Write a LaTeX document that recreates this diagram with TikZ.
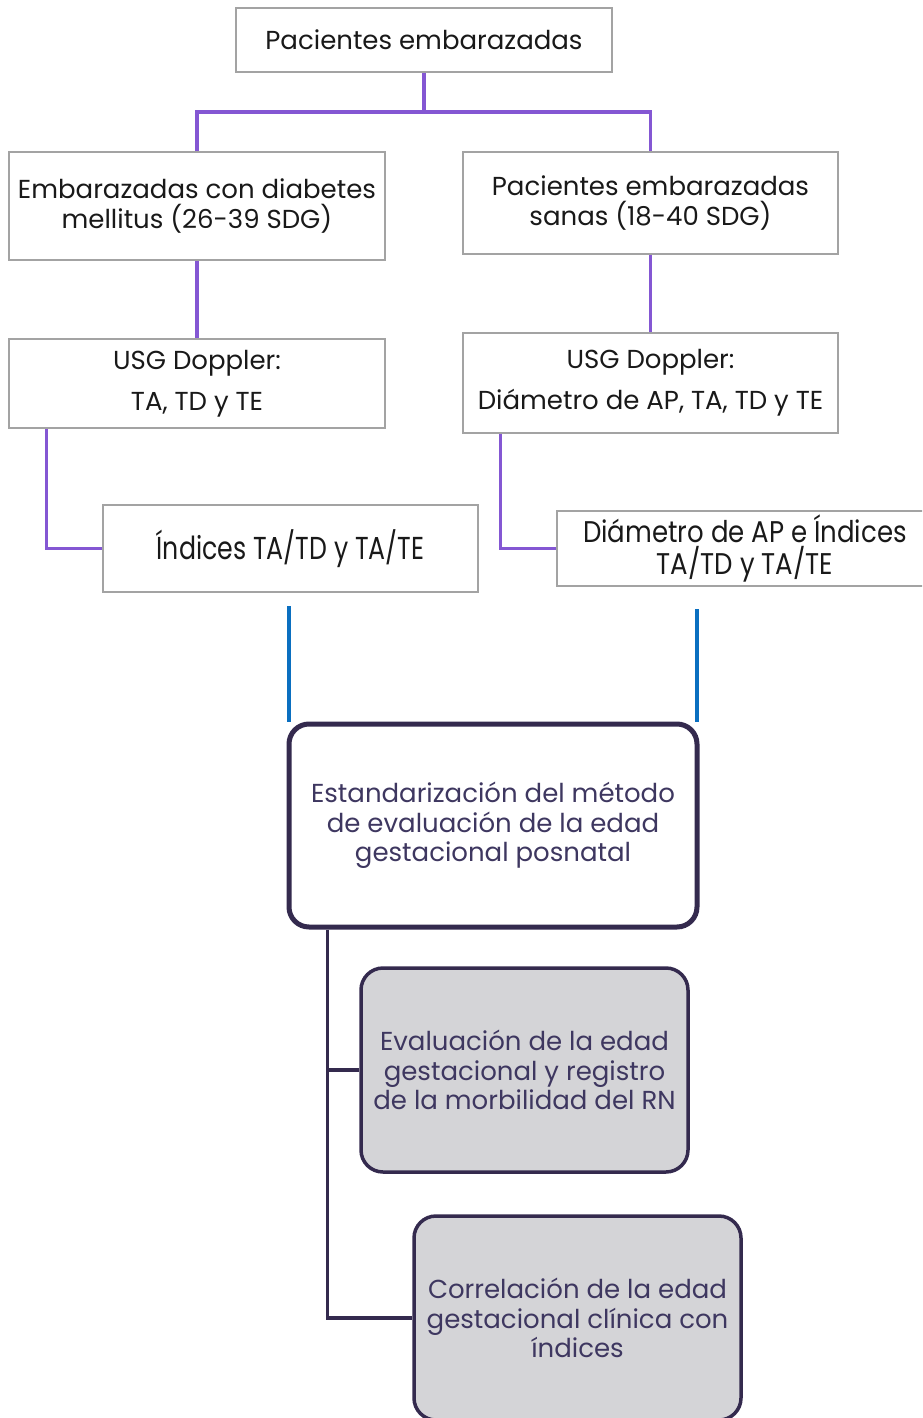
\documentclass[tikz,border=0pt]{standalone}
\usepackage{fontspec}
\setmainfont{Poppins}
\usetikzlibrary{positioning,calc}
\definecolor{lnpurple}{HTML}{8457D3}
\definecolor{boxgray}{HTML}{A3A3A3}
\definecolor{lnblue}{HTML}{0A6FC0}
\definecolor{darkbord}{HTML}{342A4E}
\definecolor{darktext}{HTML}{3E3760}
\definecolor{fillgray}{HTML}{D4D4D7}
\begin{document}
\begin{tikzpicture}[x=1pt,y=-1pt,
  topbox/.style={draw=boxgray,line width=1.3pt,fill=white,align=center,inner sep=0pt,
    font=\fontsize{26}{30}\selectfont,text=black!90},
  mainbox/.style={draw=darkbord,line width=5pt,rounded corners=20pt,fill=white,align=center,
    inner sep=0pt,font=\fontsize{26}{29.5}\selectfont,text=darktext},
  subbox/.style={draw=darkbord,line width=3.5pt,rounded corners=22pt,fill=fillgray,align=center,
    inner sep=0pt,font=\fontsize{26}{29.5}\selectfont,text=darktext},
  purp/.style={draw=lnpurple,line width=3.5pt},
  blueln/.style={draw=lnblue,line width=4pt},
  darkln/.style={draw=darkbord,line width=3.5pt}]
\useasboundingbox (0,0) rectangle (922,1418);
\begin{scope}
\clip (0,0) rectangle (922,1418);
% top level
\node[topbox,minimum width=376pt,minimum height=64pt] (top) at (424,40) {Pacientes embarazadas};
\node[topbox,minimum width=376pt,minimum height=108pt] (A) at (197,206) {Embarazadas con diabetes\\mellitus (26-39 SDG)};
\node[topbox,minimum width=375pt,minimum height=102pt] (B) at (650.5,203) {Pacientes embarazadas\\sanas (18-40 SDG)};
\node[topbox,minimum width=376pt,minimum height=89pt,font=\fontsize{26}{41}\selectfont] (C) at (197,383.5) {USG Doppler:\\TA, TD y TE};
\node[topbox,minimum width=375pt,minimum height=100pt,font=\fontsize{26}{41}\selectfont] (D) at (650.5,383) {USG Doppler:\\Diámetro de AP, TA, TD y TE};
\node[topbox,minimum width=375pt,minimum height=87pt] (E) at (290.5,548.5) {\scalebox{0.97}[1.22]{Índices TA/TD y TA/TE}};
\node[topbox,minimum width=376pt,minimum height=75pt,font=\fontsize{26}{31.5}\selectfont] (F) at (745,548.5) {\scalebox{1.0}[1.15]{Diámetro de AP e Índices}\\\scalebox{1.0}[1.15]{TA/TD y TA/TE}};
% connectors purple
\coordinate (j) at (424,112);
\draw[purp] (top.south) -- (j);
\draw[purp,line join=miter] (A.north) |- (j) -| (B.north);
\draw[purp] (A.south) -- (C.north);
\draw[purp] (B.south) -- (D.north);
\draw[purp] ([xshift=38pt]C.south west) |- (E.west);
\draw[purp] ([xshift=38pt]D.south west) |- (F.west);
% main box
\node[mainbox,minimum width=408pt,minimum height=203pt] (G) at (493,825.5) {Estandarización del método\\de evaluación de la edad\\gestacional posnatal};
\coordinate (b1) at (289,606);
\coordinate (b2) at (697,609);
\draw[blueln] (b1) -- (b1 |- G.north);
\draw[blueln] (b2) -- (b2 |- G.north);
% sub boxes
\node[subbox,minimum width=327pt,minimum height=204pt] (H) at (524.5,1070) {Evaluación de la edad\\gestacional y registro\\de la morbilidad del RN};
\node[subbox,minimum width=327pt,minimum height=204pt] (I) at (577.5,1318) {Correlación de la edad\\gestacional clínica con\\índices};
\coordinate (s) at ([xshift=41pt]G.south west);
\draw[darkln] (s) |- (I.west);
\draw[darkln] (H.west) -- (H.west -| s);
\end{scope}
\end{tikzpicture}
\end{document}
